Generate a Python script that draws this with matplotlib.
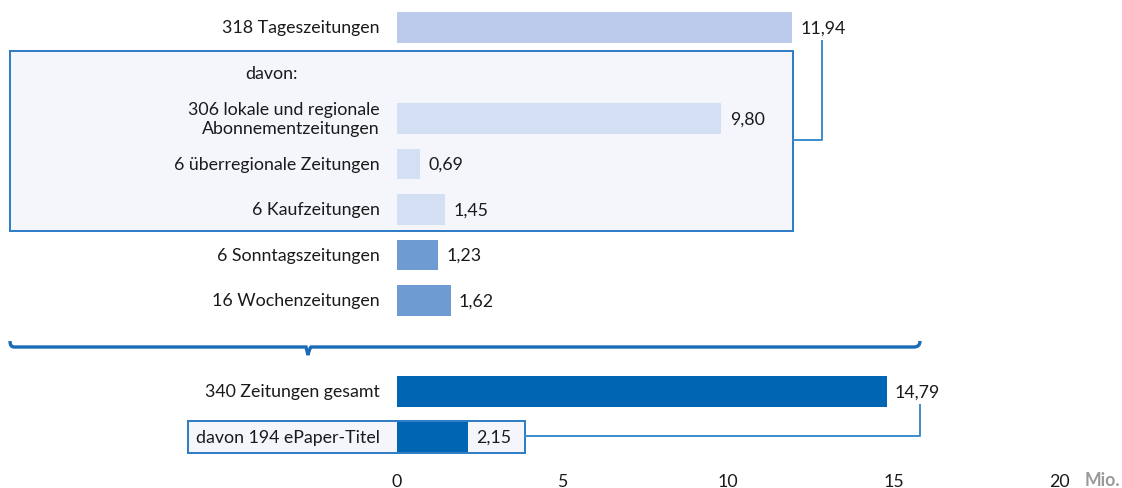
import matplotlib.pyplot as plt
from matplotlib.path import Path
from matplotlib.patches import PathPatch, Rectangle

labels = ['318 Tageszeitungen', '306 lokale und regionale\nAbonnementzeitungen',
          '6 überregionale Zeitungen', '6 Kaufzeitungen', '6 Sonntagszeitungen',
          '16 Wochenzeitungen', '340 Zeitungen gesamt', 'davon 194 ePaper-Titel']
values = [11.94, 9.80, 0.69, 1.45, 1.23, 1.62, 14.79, 2.15]
rows = [0, 2, 3, 4, 5, 6, 8, 9]
colors = ['#bccbeb', '#d3dff3', '#d3dff3', '#d3dff3', '#6f9bd3', '#6f9bd3', '#0066b3', '#0066b3']
xticks = [0, 5, 10, 15, 20]

plt.rcParams['font.family'] = ['Lato', 'DejaVu Sans']
fs = 12.8
txt = '#1a1a1a'
line_c = '#3d8ccc'
box_c = '#2b7bc4'
fill_c = '#f4f6fb'

W, H = 1122, 489
fig = plt.figure(figsize=(W / 100, H / 100), dpi=100)
ax = fig.add_axes([397 / W, (H - 468) / H, 662 / W, 468 / H])

x0, xs = 397, 662 / 20
y0, ys = 28.5, 45.5
ax.set_xlim(0, 20)
ax.set_ylim((468 - y0) / ys, -y0 / ys)


def dx(px):
    return (px - x0) / xs


def dy(py):
    return (py - y0) / ys


# boxes behind the bars
ax.add_patch(Rectangle((dx(10), dy(52)), dx(793) - dx(10), dy(232) - dy(52),
                       facecolor=fill_c, edgecolor=box_c, lw=1.4, clip_on=False, zorder=0))
ax.add_patch(Rectangle((dx(188), dy(422)), dx(525) - dx(188), dy(454) - dy(422),
                       facecolor=fill_c, edgecolor=box_c, lw=1.4, clip_on=False, zorder=0))

ax.barh(rows, values, height=0.68, color=colors, zorder=2)

for r, v, lab in zip(rows, values, labels):
    ax.annotate(f'{v:.2f}'.replace('.', ','), (v, r), xytext=(6, 0),
                textcoords='offset points', va='center', ha='left',
                fontsize=fs, color=txt)
    ax.text(dx(380), r, lab, ha='right', va='center', fontsize=fs, color=txt,
            linespacing=1.25, clip_on=False)

ax.text(dx(245), 1, 'davon:', ha='left', va='center', fontsize=fs, color=txt)

# connectors
ax.plot([dx(822), dx(822), dx(793)], [dy(42), dy(141), dy(141)],
        color=line_c, lw=1.4, clip_on=False, zorder=1)
ax.plot([dx(525), dx(920), dx(920)], [dy(437), dy(437), dy(406)],
        color=line_c, lw=1.4, clip_on=False, zorder=1)

# brace
by = 348
bverts = [(10, 342), (10, by), (14, by), (16, by),
          (300, by), (305, by), (306, by), (308, 356),
          (310, by), (311, by), (316, by),
          (914, by), (920, by), (920, 342), (920, 342)]
bcodes = [Path.MOVETO, Path.CURVE3, Path.CURVE3, Path.LINETO,
          Path.LINETO, Path.CURVE3, Path.CURVE3, Path.LINETO,
          Path.CURVE3, Path.CURVE3, Path.LINETO,
          Path.LINETO, Path.CURVE3, Path.CURVE3, Path.LINETO]
bpath = Path([(dx(a), dy(b)) for a, b in bverts], bcodes)
ax.add_patch(PathPatch(bpath, facecolor='none', edgecolor='#1a6cb8', lw=2.4,
                       clip_on=False, zorder=1))

ax.set_xticks(xticks)
ax.set_xticklabels([str(t) for t in xticks], fontsize=fs, color=txt)
ax.tick_params(axis='x', length=0, pad=4)
ax.set_yticks([])
for s in ax.spines.values():
    s.set_visible(False)
ax.patch.set_alpha(0)

ax.text(dx(1085), dy(481), 'Mio.', fontsize=fs, color='#9a9a9a', fontweight='bold',
        ha='left', va='center', clip_on=False)

fig.savefig('out.png', dpi=100)
